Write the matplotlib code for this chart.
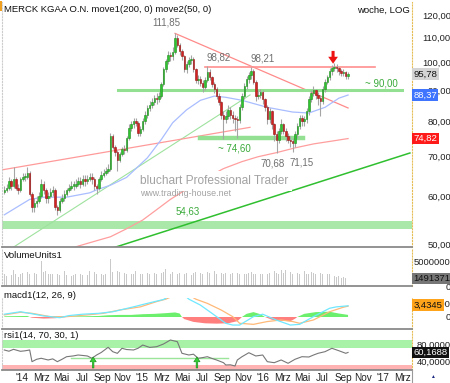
import numpy as np
import pandas as pd
import matplotlib
matplotlib.use('Agg')
import matplotlib.pyplot as plt
import matplotlib.dates as mdates
import matplotlib.ticker as mticker
import matplotlib.transforms as mtrans
from matplotlib.lines import Line2D

plt.rcParams['font.family'] = ['Liberation Sans', 'DejaVu Sans']

# Wochenschlusskurse MERCK KGAA (ab 08.11.2013)
close = np.array([
    61.5, 62, 63.5, 62.5, 64, 62, 61.5, 64, 64.5, 64.5,
    65.5, 60.5, 57.5, 58.5, 59, 60, 63, 61.5, 59.5, 60,
    61, 61.5, 57.5, 57, 59, 59.5, 60.5, 61.5, 62, 62.5,
    62.5, 63, 63.5, 63, 64, 63.5, 64, 64.5, 64, 62.5,
    62, 64, 65, 65.5, 66, 66.5, 75.5, 72.5, 71, 69,
    70.5, 72, 71.5, 75, 78, 79, 80, 79.5, 76.5, 77.5,
    80, 82, 84, 85, 86, 87.5, 87, 88, 92, 97.5,
    100.5, 103, 102.5, 104, 110, 107, 104.5, 102.5, 97.5, 99.5,
    101, 101.5, 97.5, 93.5, 94, 92.5, 91, 93.5, 96.5, 94.5,
    92, 90.5, 88, 86, 82, 80.5, 81.5, 83.5, 82, 81,
    80.5, 80.3, 84.5, 88, 91.5, 94, 95.5, 97, 93, 88,
    88.5, 89.5, 87, 84.5, 80.5, 83, 79, 76, 74.5, 77,
    79, 77, 75.5, 74.5, 74, 73.5, 76, 78.5, 81, 80,
    80.5, 83, 87, 89, 90, 88.5, 87.5, 86.5, 90.5, 93,
    94.5, 97, 98, 98.5, 98, 97, 96, 96.5, 95, 95.78])
high = np.array([
    62.5, 63, 64.5, 64, 67, 64.5, 63, 64.5, 65.5, 65.5,
    67, 66, 61, 59.5, 60, 61, 64, 63.5, 62, 61,
    62, 62.5, 62, 58, 59.5, 60.5, 61.5, 62, 63, 63.5,
    63.5, 64, 64.5, 64.5, 65, 65, 65, 65.5, 65.5, 64.5,
    63, 64.5, 66, 66.5, 67, 68, 76.5, 76, 73, 71.5,
    71, 72.5, 73, 75.5, 79, 80, 81, 81, 80, 78.5,
    81, 83, 85, 86.5, 87.5, 88.5, 89, 89.5, 93, 98.5,
    101.5, 104.5, 104, 106, 111.85, 111, 108, 105.5, 103, 100.5,
    102, 103, 102, 98, 95.5, 95, 93.5, 94.5, 98.82, 97.5,
    95, 93, 91, 89, 86.5, 83, 83, 85, 84.5, 83,
    82, 81.5, 85.5, 89, 92.5, 95, 96.5, 98.21, 97.5, 93.5,
    90, 90.5, 90, 87.5, 85, 84, 83.5, 79.5, 77, 78,
    80.5, 79.5, 78, 76.5, 75.5, 75, 77, 79.5, 82, 82,
    81.5, 84, 88, 90, 91.5, 90.5, 89.5, 88.5, 91.5, 94,
    95.5, 98, 99, 100, 99.5, 98.5, 97.5, 97.5, 97, 96.5])
low = np.array([
    60.5, 61, 61.5, 61.5, 62, 61.5, 60.5, 61, 63.5, 63.5,
    64, 60, 56.5, 56.5, 57.5, 58.5, 59.5, 60.5, 58.5, 58.5,
    59.5, 60, 57, 55.8, 56.5, 58.5, 59, 60, 61, 61.5,
    61.5, 62, 62.5, 62, 62.5, 62.5, 63, 63.5, 63, 61.5,
    60.5, 61.5, 63.5, 64.5, 65, 65.5, 66, 72, 70, 66,
    68.5, 70, 70.5, 71, 74.5, 77, 78, 78.5, 75.5, 75.5,
    77, 79, 81, 83, 84, 85, 85.5, 86, 87.5, 91.5,
    96.5, 99.5, 100.5, 101, 103.5, 106, 103, 101, 96.5, 96,
    98.5, 99.5, 96.5, 92.5, 92, 91.5, 89.5, 90, 93, 93.5,
    91, 89, 87, 85, 80.5, 74.6, 79.5, 80.5, 80.5, 79.5,
    77, 74.9, 79.5, 83.5, 87, 90.5, 92.5, 94, 92, 86.5,
    87, 87.5, 85.5, 83, 79, 79.5, 77.5, 74, 70.68, 73.5,
    76, 76, 74, 73.5, 72.5, 71.15, 72.5, 75, 77.5, 78.5,
    78.5, 79.5, 82, 86, 88, 87, 85, 81.5, 85.5, 89.5,
    92, 93.5, 95.5, 97, 96.5, 95.5, 95, 95, 94, 94])
first_open = 61.0

# Volumen in Mio. Stueck
volume = np.array([
    2.4, 2.1, 2.9, 2.3, 3.3, 2.6, 1.8, 2.4, 2.7, 2.6,
    2.9, 2.5, 5.6, 2.7, 2.5, 2.8, 5.3, 2.9, 3.1, 2.6,
    2.4, 2.5, 2.3, 2.6, 2.2, 2.4, 3.1, 2.3, 2.2, 2.1,
    2.3, 2.4, 2.2, 2.5, 2.3, 2.6, 2.2, 3.1, 3.3, 2.9,
    2.5, 2.4, 2.6, 2.2, 2.5, 2.8, 5.6, 3.0, 2.6, 3.2,
    2.9, 2.6, 2.7, 2.4, 2.8, 2.6, 2.5, 3.2, 2.9, 2.4,
    2.6, 3.2, 2.7, 2.5, 3.0, 2.8, 2.6, 2.9, 2.7, 3.0,
    3.5, 2.6, 2.4, 2.9, 2.7, 2.5, 2.8, 2.4, 2.6, 2.7,
    2.5, 2.3, 2.8, 2.9, 2.6, 2.8, 2.5, 2.6, 3.0, 2.7,
    2.9, 3.1, 2.6, 3.7, 2.7, 2.5, 2.8, 2.6, 2.4, 2.7,
    2.5, 2.8, 2.6, 2.9, 2.4, 2.6, 2.7, 3.0, 2.5, 2.6,
    2.8, 2.4, 2.6, 2.9, 2.5, 2.7, 2.4, 3.2, 2.8, 2.6,
    3.4, 2.7, 3.3, 2.5, 2.9, 2.6, 3.1, 2.7, 2.4, 2.8,
    3.2, 2.6, 2.5, 2.9, 2.7, 2.4, 2.6, 2.8, 2.5, 2.7,
    2.4, 2.6, 2.3, 2.1, 1.9, 2.0, 1.7, 1.8, 1.6, 1.491371])

# gleitende Durchschnitte (Wochenindex, Kurs)
ma50_idx = [0, 11, 17, 27, 37, 40, 46, 53, 62, 68, 73, 79, 85, 91, 96, 103, 114, 125, 132, 139, 145, 149]
ma50_val = [55.9, 59.3, 59.8, 59.8, 60.8, 61.5, 62.6, 64.5, 69.5, 74.5, 79.5, 83.5, 86.6, 88.0, 87.6, 86.6,
            84.3, 82.8, 82.5, 84.3, 87.3, 88.37]
ma200_idx = [28, 32, 39, 46, 53, 60, 66, 72, 80, 88, 95, 103, 110, 118, 126, 134, 142, 149]
ma200_val = [49.0, 49.6, 50.5, 51.4, 53.0, 54.8, 57.0, 59.3, 62.0, 64.5, 66.7, 68.5, 69.8, 70.9, 72.2, 73.3,
             74.1, 74.82]

# Trendlinien / Marken (Wochenindex, Kurs)
red_up_idx, red_up_val = [-1.8, 106.5], [66.3, 78.1]
red_down_idx, red_down_val = [74, 149], [111.85, 84.1]
red_resist_idx, red_resist_val = [87, 160.7], [98.2, 98.2]
green90_idx, green90_val = [49.3, 172.4], [90.0, 90.0]
green75_idx, green75_val = [84.8, 129.5], [74.9, 74.9]
green_band = (52.9, 54.63)
green_dark_idx, green_dark_val = [46.7, 175.8], [49.2, 70.8]
green_light_idx, green_light_val = [0, 106.5], [48.3, 88.4]

# MACD
macd_idx = [0, 7, 11, 17, 24, 28, 34, 41, 47, 56, 62, 69, 73, 77, 80, 85, 90, 96, 99, 102, 108, 112, 118,
            124, 128, 134, 141, 144, 149]
macd_val = [0.8, 1.5, 1.05, 0.3, -0.2, 0.4, 0.8, 1.05, 1.5, 2.9, 3.9, 5.0, 6.5, 6.8, 5.1, 3.4, 1.05, -1.8,
            -2.3, -2.3, 0.1, 0.8, -0.9, -2.3, -2.1, 0.1, 2.5, 2.9, 3.2]
signal_idx = [0, 7, 12, 20, 27, 36, 43, 50, 59, 66, 70, 75, 80, 83, 88, 94, 99, 102, 108, 114, 120, 125,
              128, 134, 141, 147, 149]
signal_val = [0.6, 1.35, 1.05, 0.1, 0.1, 0.6, 1.05, 2.0, 2.9, 4.4, 5.1, 6.5, 6.3, 5.1, 3.9, 2.0, 0.1, -1.8,
              -2.1, -1.3, -0.85, -1.3, -1.8, -0.85, 1.5, 2.8, 3.1]
hist_idx = [0, 10, 11, 12, 17, 22, 26, 27, 28, 35, 41, 45, 50, 55, 60, 65, 70, 74, 76, 77, 78, 82, 87, 92,
            97, 101, 103, 105, 108, 111, 113, 116, 120, 124, 126, 127, 130, 135, 141, 145, 149]
hist_val = [0.2, 0.3, 0.0, -0.2, -0.45, -0.35, -0.1, 0.0, 0.15, 0.2, 0.3, 0.5, 0.6, 0.6, 0.8, 0.9, 1.1,
            1.3, 1.0, 0.0, -0.6, -1.4, -1.8, -1.9, -1.8, -1.2, 0.0, 0.9, 1.4, 0.8, 0.0, -0.8, -1.1, -1.2,
            -0.5, 0.0, 0.9, 1.4, 1.5, 1.0, 0.6]

# RSI
rsi_idx = [0, 2, 4, 7, 9, 11, 12, 14, 16, 19, 21, 23, 25, 27, 30, 32, 34, 36, 38, 40, 42, 45, 47, 49, 51,
           53, 56, 58, 60, 63, 66, 69, 72, 75, 77, 80, 82, 84, 86, 88, 90, 92, 95, 96, 98, 100, 101, 103,
           106, 109, 112, 114, 117, 120, 123, 126, 129, 132, 134, 136, 139, 142, 145, 148, 149]
rsi_val = [65.9, 63, 67.5, 62.8, 64, 65.9, 38.4, 44, 46.4, 42.4, 45, 38.4, 44, 50.1, 52, 54.1, 53, 51.8,
           46.4, 54.1, 60, 72.2, 61.9, 58, 69.9, 67, 65.9, 70, 77.6, 72, 73.6, 80, 89.4, 85.4, 58.1, 54.1,
           56, 46.4, 48, 50.1, 46, 42.4, 36.0, 30.6, 31, 28.2, 42.4, 50, 59.5, 51.8, 54.1, 38.4, 36.0,
           42.4, 34.6, 44.0, 50.1, 49.4, 54, 58.1, 61.9, 69.9, 64.2, 58.1, 60.1688]
rsi_line_idx, rsi_line_val = [29, 97], [46.4, 46.4]
rsi_arrow_idx = [38.5, 83.5]

price_ticks = [50, 60, 70, 80, 90, 100, 110, 120]
month_names = {1: None, 3: 'Mrz', 5: 'Mai', 7: 'Jul', 9: 'Sep', 11: 'Nov'}

dates = pd.date_range('2013-11-08', periods=len(close), freq='W-FRI')
xd = mdates.date2num(dates)


def wx(i):
    return xd[0] + 7 * np.asarray(i, dtype=float)


W, H = 450, 383
fig = plt.figure(figsize=(W / 100, H / 100), dpi=100)


def px_axes(top, bottom):
    return fig.add_axes([2 / W, (H - bottom) / H, 410 / W, (bottom - top) / H])


ax = px_axes(2, 247)
axv = px_axes(249, 286)
axm = px_axes(298, 329)
axr = px_axes(331, 370)
xlim = (mdates.date2num(pd.Timestamp('2013-11-01')), mdates.date2num(pd.Timestamp('2017-03-29')))

for a in (ax, axv, axm, axr):
    a.set_xlim(*xlim)
    a.spines['top'].set_visible(False)
    a.spines['bottom'].set_color('#8a8a8a')
    a.spines['bottom'].set_linewidth(1.3)
    a.spines['left'].set_color('#cccccc')
    a.spines['left'].set_linestyle(':')
    a.spines['right'].set_color('#e6bd55')
    a.spines['right'].set_linestyle(':')
    a.yaxis.tick_right()
    a.tick_params(axis='y', length=0, pad=28, labelsize=6.8, labelcolor='#222222')
    a.tick_params(axis='x', bottom=False, labelbottom=False)


def right_labels(a, ticks, labels):
    a.set_yticks(ticks)
    a.set_yticklabels(labels)
    a.yaxis.set_minor_locator(mticker.NullLocator())
    for t in a.get_yticklabels():
        t.set_horizontalalignment('right')


def tag(a, y, text, bg, fg):
    tr = mtrans.blended_transform_factory(a.transAxes, a.transData)
    a.text(1 + 1.5 / 410, y, text, transform=tr, ha='left', va='center', fontsize=6.8, color=fg,
           bbox=dict(boxstyle='square,pad=0.12', fc=bg, ec='none'), zorder=10, clip_on=False)


# --- Kurs-Chart ---
ax.set_yscale('log')
ax.set_ylim(49.43, 126.1)
right_labels(ax, price_ticks, [f'{v:.2f}'.replace('.', ',') for v in price_ticks])

ax.axhspan(*green_band, color='#a9e8a9', lw=0, zorder=1)
ax.plot(wx(green_dark_idx), green_dark_val, color='#2fbf2f', lw=1.1, zorder=2)
ax.plot(wx(green_light_idx), green_light_val, color='#9ee29e', lw=0.8, zorder=2)
ax.plot(wx(red_up_idx), red_up_val, color='#ff9a9a', lw=0.9, zorder=2)
ax.plot(wx(red_down_idx), red_down_val, color='#ff8a8a', lw=0.9, zorder=2)
ax.plot(wx(red_resist_idx), red_resist_val, color='#ff8f8f', lw=1.2, zorder=2)
ax.plot(wx(green90_idx), green90_val, color='#93e093', lw=2.2, zorder=2)
ax.plot(wx(green75_idx), green75_val, color='#93e093', lw=3.2, zorder=2)
ax.plot(wx(ma50_idx), ma50_val, color='#a9bdff', lw=0.9, zorder=2)
ax.plot(wx(ma200_idx), ma200_val, color='#ff9e9e', lw=0.9, zorder=2)

open_ = np.r_[first_open, close[:-1]]
up = close >= open_
body_lo = np.minimum(open_, close)
body_h = np.maximum(np.abs(close - open_), 0.3)
ax.vlines(xd, low, high, color='#a5a5a5', lw=0.8, zorder=3)
ax.bar(xd[up], body_h[up], bottom=body_lo[up], width=4.5, color='#2fc52f', edgecolor='#1c8c1c', lw=0.4,
       zorder=4)
ax.bar(xd[~up], body_h[~up], bottom=body_lo[~up], width=4.5, color='#d42222', edgecolor='#951414', lw=0.4,
       zorder=4)

ax.annotate('', xy=(wx(142.5), 99.6), xytext=(wx(142.5), 104.6),
            arrowprops=dict(width=2.2, headwidth=7, headlength=5, color='#ee1111', lw=0), zorder=6)

grey = '#6f6f6f'
green = '#3aaa3a'
ax.annotate('111,85', (wx(74), 111.85), xytext=(-6, 8), textcoords='offset points', ha='center',
            va='center', fontsize=7, color=grey)
ax.annotate('98,82', (wx(88), 98.82), xytext=(8, 6), textcoords='offset points', ha='center',
            va='center', fontsize=7, color=grey)
ax.annotate('98,21', (wx(107), 98.21), xytext=(8, 6.5), textcoords='offset points', ha='center',
            va='center', fontsize=7, color=grey)
ax.annotate('70,68', (wx(118), 70.68), xytext=(-3, -7), textcoords='offset points', ha='center',
            va='center', fontsize=7, color=grey)
ax.annotate('71,15', (wx(125), 71.15), xytext=(6.5, -8), textcoords='offset points', ha='center',
            va='center', fontsize=7, color=grey)
ax.annotate('~ 74,60', (wx(101), 74.6), xytext=(-2, -6.5), textcoords='offset points', ha='center',
            va='center', fontsize=7, color=green)
ax.annotate('~ 90,00', (wx(163.5), 90), xytext=(0, 4.5), textcoords='offset points', ha='center',
            va='center', fontsize=7, color=green)
ax.annotate('54,63', (wx(79.6), 54.63), xytext=(0, 6.5), textcoords='offset points', ha='center',
            va='center', fontsize=7, color=green)

ax.text((140 - 2) / 410, (247 - 181) / 245, 'bluchart Professional Trader', transform=ax.transAxes,
        fontsize=8.6, color='#a2a2a2', ha='left', va='center',
        bbox=dict(fc='white', ec='none', pad=3), zorder=5)
ax.text((140 - 2) / 410, (247 - 193) / 245, 'www.trading-house.net', transform=ax.transAxes,
        fontsize=6.4, color='#a2a2a2', ha='left', va='center', zorder=6)

tag(ax, close[-1], '95,78', '#d4d4d4', '#111111')
tag(ax, ma50_val[-1], '88,37', '#3f74ff', 'white')
tag(ax, ma200_val[-1], '74,82', '#ff1a1a', 'white')

# --- Volumen ---
axv.bar(xd, volume * 1e6, width=2.2, color='#c9c9c9', lw=0)
axv.set_ylim(0, 7.7e6)
right_labels(axv, [0, 5e6], ['0', '5000000'])
tag(axv, volume[-1] * 1e6, '1491371', '#767676', '#111111')

# --- MACD ---
axm.set_ylim(-3.43, 5.43)
hx = wx(hist_idx)
hv = np.array(hist_val)
axm.fill_between(hx, 0, hv, where=hv >= 0, interpolate=True, color='#6cef6c', lw=0)
axm.fill_between(hx, 0, hv, where=hv <= 0, interpolate=True, color='#ff7e7e', lw=0)
axm.plot(wx(signal_idx), signal_val, color='#ffb978', lw=0.9)
axm.plot(wx(macd_idx), macd_val, color='#6fe8ff', lw=0.9)
right_labels(axm, [0, 4], ['0', '4,0000'])
tag(axm, 3.4345, '3,4345', '#ffa31a', '#111111')

# --- RSI ---
axr.set_ylim(18.8, 110.6)
axr.axhspan(70, 89.5, color='#a8f2a8', lw=0)
axr.axhspan(18.8, 30, color='#ffb3b3', lw=0)
axr.plot(wx(rsi_line_idx), rsi_line_val, color='#9be59b', lw=1.0)
axr.plot(wx(rsi_idx), rsi_val, color='#777777', lw=0.8)
for i in rsi_arrow_idx:
    axr.annotate('', xy=(wx(i), 49.5), xytext=(wx(i), 23.5),
                 arrowprops=dict(width=1.2, headwidth=4.5, headlength=3.5, fc='#35d035', ec='#178a17', lw=0.4))
right_labels(axr, [40, 80], ['40,0000', '80,0000'])
tag(axr, 60.1688, '60,1688', '#111111', 'white')

tick_dates = pd.date_range('2014-01-01', '2017-03-01', freq='2MS')
tick_labels = [("'" + d.strftime('%y')) if d.month == 1 else month_names[d.month] for d in tick_dates]
axr.set_xticks(mdates.date2num(tick_dates))
axr.set_xticklabels(tick_labels)
axr.tick_params(axis='x', bottom=False, labelbottom=True, length=0, pad=2, labelsize=7.2, labelcolor='#222222')

# Beschriftungen der Panels
fig.text(4 / W, 1 - 10 / H, 'MERCK KGAA O.N. move1(200, 0) move2(50, 0)', fontsize=6.8, va='center',
         color='#111111')
fig.text(410 / W, 1 - 10 / H, 'woche, LOG', fontsize=6.8, va='center', ha='right', color='#111111')
fig.text(4 / W, 1 - 255 / H, 'VolumeUnits1', fontsize=6.8, va='center', color='#111111')
fig.text(4 / W, 1 - 296 / H, 'macd1(12, 26, 9)', fontsize=6.8, va='center', color='#111111')
fig.text(4 / W, 1 - 336 / H, 'rsi1(14, 70, 30, 1)', fontsize=6.8, va='center', color='#111111')
fig.add_artist(plt.Rectangle((0, 1 - 11 / H), 2 / W, 10 / H, transform=fig.transFigure, color='#f0a020',
                             lw=0))
fig.add_artist(Line2D([412 / W, 412 / W], [0, 13 / H], transform=fig.transFigure, color='#9a9a9a', lw=0.8))
fig.text(432 / W, 6 / H, '\u25b2', fontsize=3.5, color='#1a2a80', ha='center', va='center')

fig.savefig('out.png', dpi=100)
